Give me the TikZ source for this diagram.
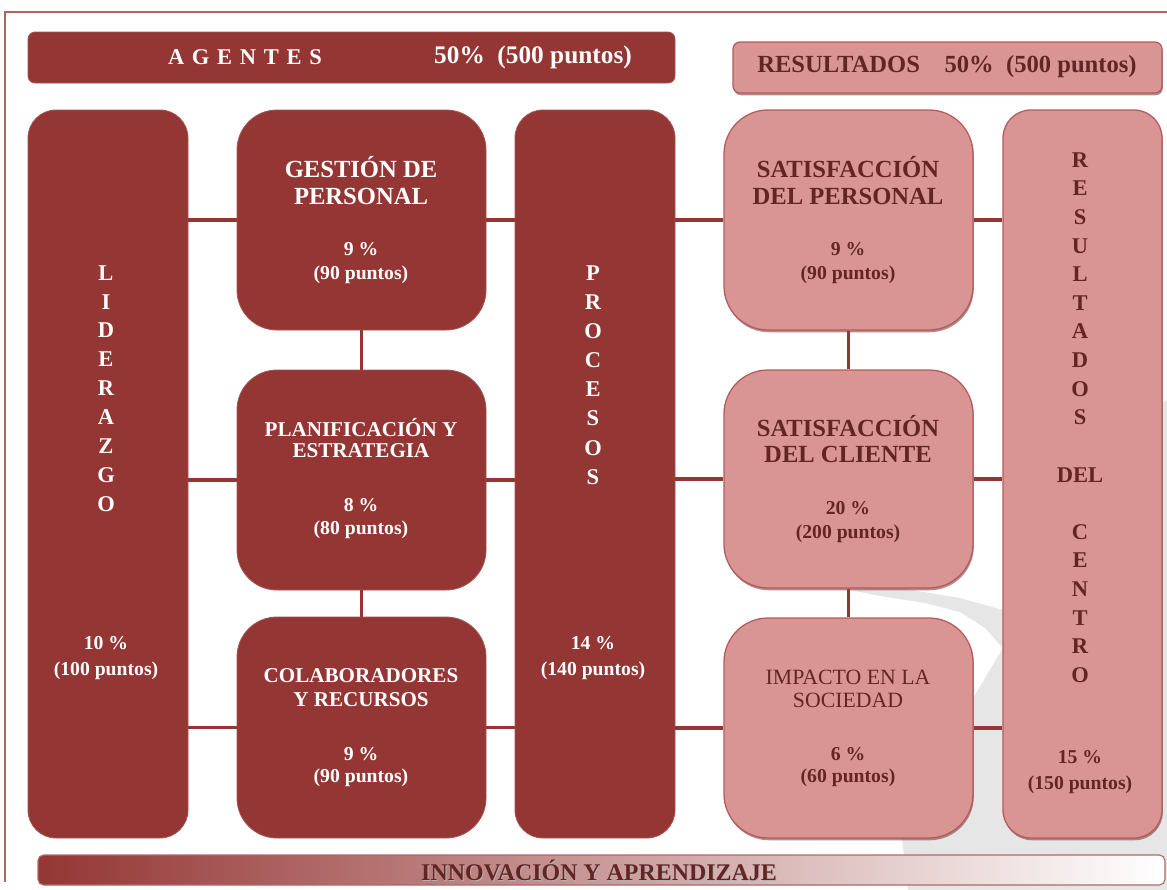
\documentclass[tikz,border=0pt]{standalone}
\usepackage{fontspec}
\setmainfont{Liberation Serif}
\usetikzlibrary{shadows}
\definecolor{agred}{HTML}{943634}
\definecolor{rspink}{HTML}{D99594}
\definecolor{rsline}{HTML}{B35B5A}
\definecolor{rstext}{HTML}{632523}
\definecolor{framec}{HTML}{B86060}
\definecolor{mapgray}{HTML}{E6E6E6}
\newcommand\pxu{0.025cm}
\newcommand\lsp{\hspace{5.5pt}}
\tikzset{
  agbox/.style={fill=agred, draw=agred!85!white, line width=0.6pt, inner sep=0pt, rounded corners=#1},
  rsbox/.style={fill=rspink, draw=rsline, line width=0.9pt, inner sep=0pt, rounded corners=#1,
     drop shadow={shadow xshift=0.6pt, shadow yshift=-1.6pt, fill=rsline!70!black, opacity=0.6}},
  conn/.style={draw=agred, line width=2.2pt},
  wt/.style={text=white, inner sep=0pt, font=\bfseries\fontsize{17.5}{21}\selectfont},
  wts/.style={text=white, inner sep=0pt, font=\bfseries\fontsize{15}{18}\selectfont},
  wp/.style={text=white, inner sep=0pt, font=\bfseries\fontsize{14}{17}\selectfont},
  rt/.style={text=rstext, inner sep=0pt, font=\bfseries\fontsize{17.5}{21}\selectfont},
  rtr/.style={text=rstext, inner sep=0pt, font=\fontsize{15.5}{18}\selectfont},
  rp/.style={text=rstext, inner sep=0pt, font=\bfseries\fontsize{14}{17}\selectfont},
  vlet/.style={align=center, inner sep=0pt, font=\bfseries\fontsize{16}{#1}\selectfont},
}
\begin{document}
\begin{tikzpicture}[x=0.025cm, y=-0.025cm]
\useasboundingbox (0,0) rectangle (1167,890);
\fill[white] (0,0) rectangle (1167,890);
% background map
\fill[mapgray] (1150,410) -- (1167,400) -- (1167,890) -- (908,890) -- (902,838)
  -- (960,720) -- (1003,648) -- (985,628) -- (960,612) -- (925,603) -- (880,596) -- (850,590)
  -- (900,588) -- (960,598) -- (1003,610) -- (1003,420) -- cycle;
% frame
\draw[framec, line width=2pt] (5,882) -- (5,12) -- (1167,12);
% banners
\node[agbox=5pt, minimum width=647*\pxu, minimum height=51*\pxu] (agban) at (351.5,57.5) {};
\node[text=white, inner sep=0pt, font=\bfseries\fontsize{16}{19}\selectfont] (agtxt) at (245,57)
  {A\lsp G\lsp E\lsp N\lsp T\lsp E\lsp S};
\node[text=white, inner sep=0pt, font=\bfseries\fontsize{18}{21}\selectfont] (agpct) at (533,57) {50\%\ \ (500 puntos)};
\node[rsbox=5pt, minimum width=429*\pxu, minimum height=51*\pxu] (rsban) at (947.5,67.5) {};
\node[rt] (rstxt) at (947,67) {RESULTADOS\quad 50\%\ \ (500 puntos)};
% agent boxes
\node[agbox=0.7cm, minimum width=160*\pxu, minimum height=728*\pxu] (lid) at (108,474) {};
\node[agbox=1cm, minimum width=249*\pxu, minimum height=220*\pxu] (gp) at (361.5,220) {};
\node[agbox=1cm, minimum width=249*\pxu, minimum height=220*\pxu] (plan) at (361.5,480) {};
\node[agbox=1cm, minimum width=249*\pxu, minimum height=221*\pxu] (colab) at (361.5,727.5) {};
\node[agbox=0.7cm, minimum width=160*\pxu, minimum height=728*\pxu] (proc) at (595,474) {};
% result boxes
\node[rsbox=1.1cm, minimum width=249*\pxu, minimum height=220*\pxu] (sp) at (848.5,220) {};
\node[rsbox=1.1cm, minimum width=249*\pxu, minimum height=218*\pxu] (sc) at (848.5,479) {};
\node[rsbox=1.1cm, minimum width=249*\pxu, minimum height=220*\pxu] (imp) at (848.5,728) {};
\node[rsbox=0.7cm, minimum width=159*\pxu, minimum height=728*\pxu] (rc) at (1082.5,474) {};
% innovation bar
\node[left color=agred, right color=white, draw=agred!75, line width=0.8pt, rounded corners=4pt,
  inner sep=0pt, minimum width=1127*\pxu, minimum height=30*\pxu] (inn) at (601.5,870) {};
\node[text=gray!60, inner sep=0pt, font=\bfseries\fontsize{17}{20}\selectfont] (innsh) at (600,871.5) {INNOVACIÓN Y APRENDIZAJE};
\node[text=rstext, inner sep=0pt, font=\bfseries\fontsize{17}{20}\selectfont] (inntxt) at (599,870.5) {INNOVACIÓN Y APRENDIZAJE};
% connectors
\draw[conn] (lid.east |- gp.west) -- (gp.west);
\draw[conn] (lid.east |- plan.west) -- (plan.west);
\draw[conn] (lid.east |- colab.west) -- (colab.west);
\draw[conn] (gp.east) -- (proc.west |- gp.east);
\draw[conn] (plan.east) -- (proc.west |- plan.east);
\draw[conn] (colab.east) -- (proc.west |- colab.east);
\draw[conn] (gp.south) -- (plan.north);
\draw[conn] (plan.south) -- (colab.north);
\draw[conn] (proc.east |- sp.west) -- (sp.west);
\draw[conn] (proc.east |- sc.west) -- (sc.west);
\draw[conn] (proc.east |- imp.west) -- (imp.west);
\draw[conn] (sp.east) -- (rc.west |- sp.east);
\draw[conn] (sc.east) -- (rc.west |- sc.east);
\draw[conn] (imp.east) -- (rc.west |- imp.east);
\draw[conn] (sp.south) -- (sc.north);
\draw[conn] (sc.south) -- (imp.north);
% Liderazgo
\node[vlet=20.56pt, text=white] (lidtxt) at (106,388.5) {L\\I\\D\\E\\R\\A\\Z\\G\\O};
\node[wp] (lid1) at (106,643) {10 \%};
\node[wp] (lid2) at (106,671) {(100 puntos)};
% Gestion de personal
\node[wt] (gp1) at (361,167) {GESTIÓN DE};
\node[wt] (gp2) at (361,196) {PERSONAL};
\node[wp] (gp3) at (361,249) {9 \%};
\node[wp] (gp4) at (361,275) {(90 puntos)};
% Planificacion
\node[wts] (pl1) at (361,428) {PLANIFICACIÓN Y};
\node[wts] (pl2) at (361,451) {ESTRATEGIA};
\node[wp] (pl3) at (361,505) {8 \%};
\node[wp] (pl4) at (361,530) {(80 puntos)};
% Colaboradores
\node[wts] (co1) at (361,676) {COLABORADORES};
\node[wts] (co2) at (361,700) {Y RECURSOS};
\node[wp] (co3) at (361,754) {9 \%};
\node[wp] (co4) at (361,778) {(90 puntos)};
% Procesos
\node[vlet=20.7pt, text=white] (proctxt) at (593,375) {P\\R\\O\\C\\E\\S\\O\\S};
\node[wp] (pr1) at (593,643) {14 \%};
\node[wp] (pr2) at (593,671) {(140 puntos)};
% Satisfaccion del personal
\node[rt] (sp1) at (848,167) {SATISFACCIÓN};
\node[rt] (sp2) at (848,196) {DEL PERSONAL};
\node[rp] (sp3) at (848,249) {9 \%};
\node[rp] (sp4) at (848,275) {(90 puntos)};
% Satisfaccion del cliente
\node[rt] (sc1) at (848,426) {SATISFACCIÓN};
\node[rt] (sc2) at (848,454) {DEL CLIENTE};
\node[rp] (sc3) at (848,508) {20 \%};
\node[rp] (sc4) at (848,534) {(200 puntos)};
% Impacto
\node[rtr] (im1) at (848,677) {IMPACTO EN LA};
\node[rtr] (im2) at (848,700) {SOCIEDAD};
\node[rp] (im3) at (848,754) {6 \%};
\node[rp] (im4) at (848,778) {(60 puntos)};
% Resultados del centro
\node[vlet=20.35pt, text=rstext] (rctxt) at (1080,417.5)
  {R\\E\\S\\U\\L\\T\\A\\D\\O\\S\\\mbox{}\\DEL\\\mbox{}\\C\\E\\N\\T\\R\\O};
\node[rp] (rc1) at (1080,757) {15 \%};
\node[rp] (rc2) at (1080,785) {(150 puntos)};
\end{tikzpicture}
\end{document}
